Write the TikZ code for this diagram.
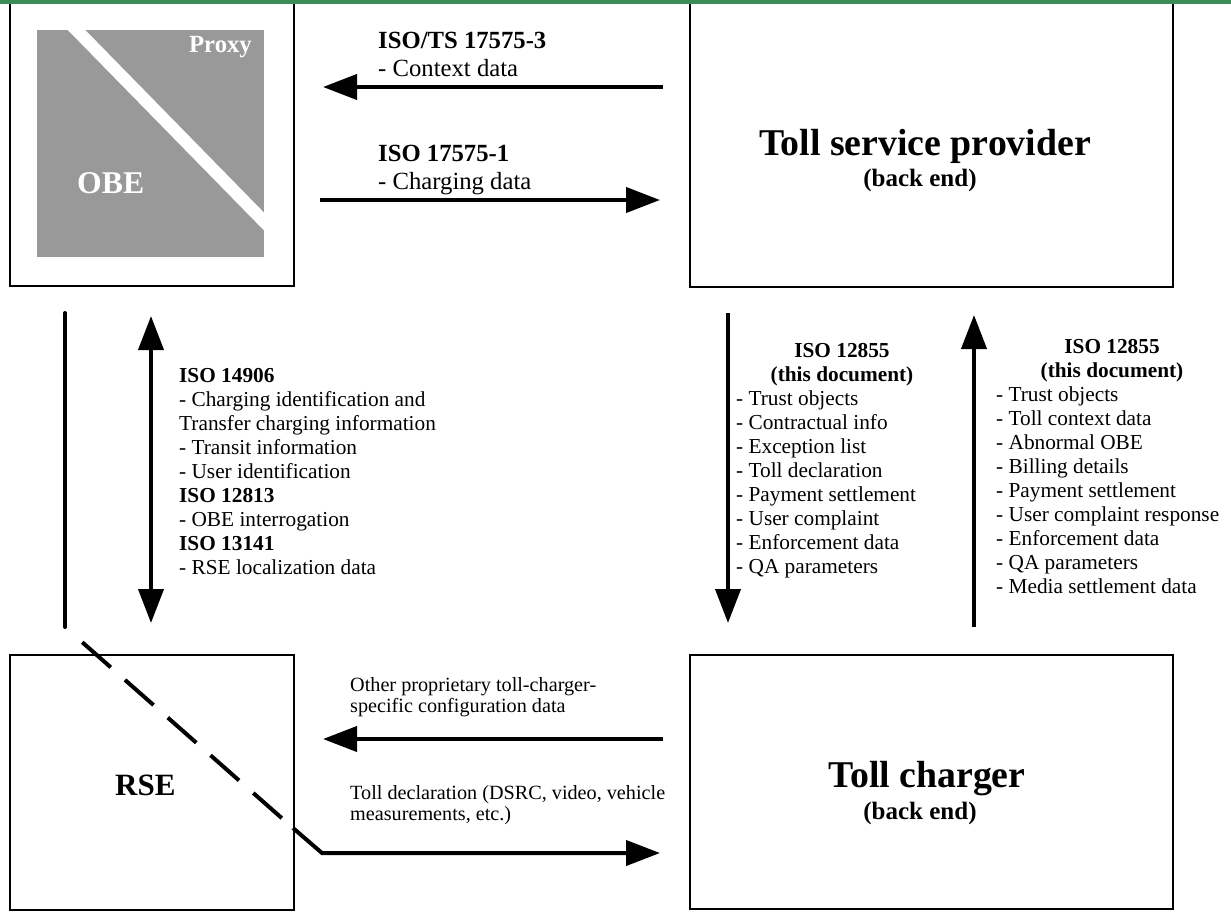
\documentclass[tikz,border=0pt]{standalone}
\usepackage{fontspec}
\setmainfont{Liberation Serif}
\usetikzlibrary{arrows.meta}
\definecolor{topgreen}{RGB}{61,139,87}
\definecolor{obegray}{RGB}{153,153,153}
\begin{document}
\begin{tikzpicture}[x=1pt,y=-1pt,
  >={Triangle[length=34pt,width=25pt]},
  box/.style={draw=black, line width=2pt, inner sep=0pt, anchor=north west},
  conn/.style={line width=4pt, ->},
  dconn/.style={line width=4pt, <->},
  body/.style={inner sep=0pt, font=\fontsize{21.3}{24}\selectfont},
  bodyb/.style={inner sep=0pt, font=\fontsize{21.3}{24}\selectfont\bfseries},
  small/.style={inner sep=0pt, anchor=base west, font=\fontsize{20.2}{24}\selectfont},
  toplbl/.style={inner sep=0pt, anchor=base west, font=\fontsize{24.7}{28}\selectfont},
  toplblb/.style={inner sep=0pt, anchor=base west, font=\fontsize{24.7}{28}\selectfont\bfseries},
  big/.style={inner sep=0pt, anchor=base, font=\fontsize{37.8}{40}\selectfont\bfseries},
  sub/.style={inner sep=0pt, anchor=base, font=\fontsize{25}{28}\selectfont\bfseries}
]
\useasboundingbox (0,0) rectangle (1231,911);

% boxes
\node[box, minimum width=284pt, minimum height=283pt] (obe) at (9,2) {};
\node[box, minimum width=483pt, minimum height=284pt] (tsp) at (689,2) {};
\node[box, minimum width=284pt, minimum height=255pt] (rse) at (9,654) {};
\node[box, minimum width=483pt, minimum height=254pt] (tc) at (689,654) {};

% OBE / Proxy graphic
\fill[obegray] (37,30) rectangle (264,257);
\begin{scope}
  \clip (37,30) rectangle (264,257);
  \draw[white, line width=12.5pt] (39,-8.3) -- (301.5,259.8);
\end{scope}
\node[inner sep=0pt, anchor=base east, text=white, font=\fontsize{24.7}{28}\selectfont\bfseries] (proxy) at (252,52) {Proxy};
\node[inner sep=0pt, anchor=base west, text=white, font=\fontsize{31.7}{34}\selectfont\bfseries] (obelbl) at (77,193) {OBE};

% RSE label
\node[inner sep=0pt, anchor=base west, font=\fontsize{31}{34}\selectfont\bfseries] (rselbl) at (115,795) {RSE};

% back end labels
\node[big] (tsplbl) at (925,155) {Toll service provider};
\node[sub] (tspsub) at (920,186) {(back end)};
\node[big] (tclbl) at (927,787) {Toll charger};
\node[sub] (tcsub) at (920,819) {(back end)};

% top green line
\fill[topgreen] (0,0) rectangle (1231,4);

% connector end points
\coordinate (ctxS) at (663,87);   \coordinate (ctxE) at (323,87);
\coordinate (chgS) at (320,200);  \coordinate (chgE) at (660,200);
\coordinate (dsrcT) at (151,316); \coordinate (dsrcB) at (151,623);
\coordinate (pxT) at (65,313);    \coordinate (pxB) at (65,627);
\coordinate (pxR) at (293,828);   \coordinate (pxK) at (322,853);
\coordinate (pxE) at (660,853);
\coordinate (dnS) at (728,313);   \coordinate (dnE) at (728,623);
\coordinate (upS) at (974,627);   \coordinate (upE) at (974,315);
\coordinate (cfgS) at (663,739);  \coordinate (cfgE) at (323,739);

% connectors
\draw[conn] (ctxS) -- (ctxE);
\draw[conn] (chgS) -- (chgE);
\draw[dconn] (dsrcT) -- (dsrcB);
\draw[line width=4pt, line cap=round] (pxT) -- (pxB);
\draw[line width=4pt, dash pattern=on 0pt off 23pt on 38pt off 19pt on 38pt off 19pt on 38pt off 19pt on 38pt off 19pt on 38pt off 40pt] (pxB) -- (pxR);
\draw[conn] (pxR) -- (pxK) -- (pxE);
\draw[conn] (dnS) -- (dnE);
\draw[conn] (upS) -- (upE);
\draw[conn] (cfgS) -- (cfgE);

% top labels
\node[toplblb] (l1a) at (378,48) {ISO/TS 17575-3};
\node[toplbl]  (l1b) at (378,76) {- Context data};
\node[toplblb] (l2a) at (378,161) {ISO 17575-1};
\node[toplbl]  (l2b) at (378,189) {- Charging data};

% left block
\foreach \t/\b [count=\i from 0] in {ISO 14906/1, - Charging identification and/0, Transfer charging information/0, - Transit information/0, - User identification/0, ISO 12813/1, - OBE interrogation/0, ISO 13141/1, - RSE localization data/0}{
  \ifnum\b=1
    \node[bodyb, anchor=base west] (lb-\i) at (179,382+24*\i) {\t};
  \else
    \node[body, anchor=base west] (lb-\i) at (179,382+24*\i) {\t};
  \fi
}

% middle block
\node[bodyb, anchor=base] (mh1) at (842,357) {ISO 12855};
\node[bodyb, anchor=base] (mh2) at (842,381) {(this document)};
\foreach \t [count=\i from 0] in {- Trust objects, - Contractual info, - Exception list, - Toll declaration, - Payment settlement, - User complaint, - Enforcement data, - QA parameters}{
  \node[body, anchor=base west] (mb-\i) at (736,405+24*\i) {\t};
}

% right block
\node[bodyb, anchor=base] (rh1) at (1112,353) {ISO 12855};
\node[bodyb, anchor=base] (rh2) at (1112,377) {(this document)};
\foreach \t [count=\i from 0] in {- Trust objects, - Toll context data, - Abnormal OBE, - Billing details, - Payment settlement, - User complaint response, - Enforcement data, - QA parameters, - Media settlement data}{
  \node[body, anchor=base west] (rb-\i) at (996,401+24*\i) {\t};
}

% bottom labels
\node[small] (c1) at (350,691) {Other proprietary toll-charger-};
\node[small] (c2) at (350,712) {specific configuration data};
\node[small] (d1) at (350,799) {Toll declaration (DSRC, video, vehicle};
\node[small] (d2) at (350,820) {measurements, etc.)};
\end{tikzpicture}
\end{document}
